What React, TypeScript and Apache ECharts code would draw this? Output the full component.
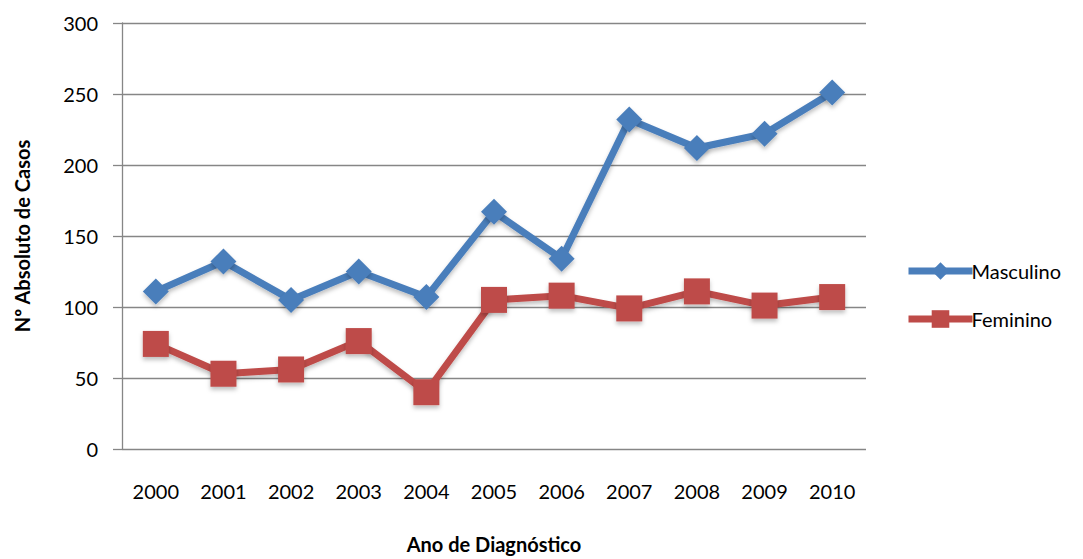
import React, { useEffect, useRef } from "react";
import * as echarts from "echarts";

const years = ["2000", "2001", "2002", "2003", "2004", "2005", "2006", "2007", "2008", "2009", "2010"];
const masculino = [111, 132, 105, 125, 107, 167, 134, 232, 212, 222, 251];
const feminino = [74, 53, 56, 76, 40, 105, 108, 99, 111, 101, 107];

const FONT = "Lato, 'Open Sans', sans-serif";

export default function App() {
  const ref = useRef<HTMLDivElement>(null);
  useEffect(() => {
    if (!ref.current) return;
    const chart = echarts.init(ref.current, null, { renderer: "svg" });
    chart.setOption({
      animation: false,
      backgroundColor: "#ffffff",
      textStyle: { fontFamily: FONT },
      grid: { left: 122, top: 23, right: 217, bottom: 97, containLabel: false },
      legend: {
        orient: "vertical",
        left: 900,
        top: 256,
        itemWidth: 64,
        itemHeight: 22,
        itemGap: 28,
        lineStyle: { width: 7 },
        textStyle: { fontSize: 20, color: "#000", fontFamily: FONT, padding: [0, 0, 0, -6] },
        data: ["Masculino", "Feminino"],
      },
      xAxis: {
        type: "category",
        data: years,
        boundaryGap: true,
        axisLine: { show: false },
        axisTick: { show: false },
        axisLabel: { fontSize: 20, color: "#000", margin: 32, fontFamily: FONT },
        name: "Ano de Diagnóstico",
        nameLocation: "middle",
        nameGap: 85,
        nameTextStyle: { fontSize: 20, fontWeight: "bold", color: "#000", fontFamily: FONT },
      },
      yAxis: {
        type: "value",
        min: 0,
        max: 300,
        interval: 50,
        axisLine: { show: true, lineStyle: { color: "#868686", width: 1.3 } },
        axisTick: { show: true, length: 9, lineStyle: { color: "#868686", width: 1.3 } },
        splitLine: { show: true, lineStyle: { color: "#868686", width: 1.3 } },
        axisLabel: { fontSize: 20, color: "#000", margin: 24, fontFamily: FONT },
        name: "Nº Absoluto de Casos",
        nameLocation: "middle",
        nameGap: 90,
        nameRotate: 90,
        nameTextStyle: { fontSize: 20, fontWeight: "bold", color: "#000", fontFamily: FONT },
      },
      series: [
        {
          name: "Masculino",
          type: "line",
          data: masculino,
          symbol: "diamond",
          symbolSize: 26,
          lineStyle: { color: "#4A7EBB", width: 7, shadowColor: "rgba(0,0,0,0.25)", shadowBlur: 4, shadowOffsetY: 3 },
          itemStyle: { color: "#4A7EBB", shadowColor: "rgba(0,0,0,0.25)", shadowBlur: 4, shadowOffsetY: 3 },
        },
        {
          name: "Feminino",
          type: "line",
          data: feminino,
          symbol: "rect",
          symbolSize: 26,
          lineStyle: { color: "#BE4B48", width: 7, shadowColor: "rgba(0,0,0,0.25)", shadowBlur: 4, shadowOffsetY: 3 },
          itemStyle: { color: "#BE4B48", shadowColor: "rgba(0,0,0,0.25)", shadowBlur: 4, shadowOffsetY: 3 },
        },
      ],
    });
    return () => chart.dispose();
  }, []);
  return (
    <div
      ref={ref}
      style={{ position: "absolute", left: 0, top: 0, width: 1083, height: 559 }}
    />
  );
}
